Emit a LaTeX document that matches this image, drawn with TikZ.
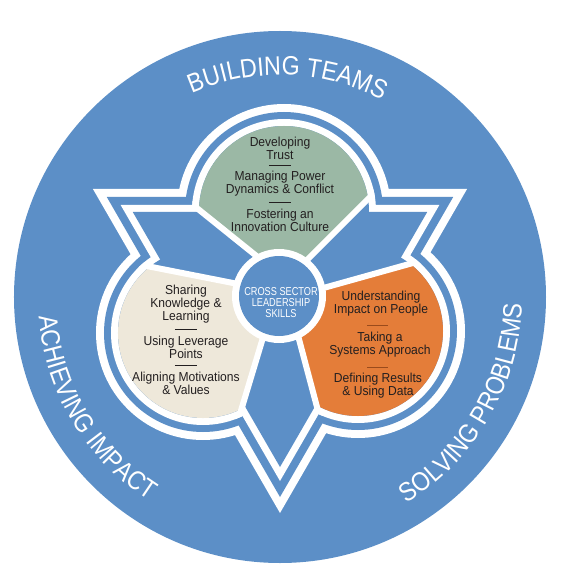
\documentclass[tikz,border=0pt]{standalone}
\usepackage{fontspec}
\setmainfont{Liberation Sans}
\newfontfamily\lobefont{Liberation Sans}[FakeStretch=0.93]
\newfontfamily\centerfont{Liberation Sans}[FakeStretch=0.8]
\newfontfamily\ringfont{Liberation Sans}[FakeStretch=0.88]
\usetikzlibrary{calc,decorations.text}
\definecolor{ringblue}{HTML}{5C8FC7}
\definecolor{sage}{HTML}{9BB8A5}
\definecolor{cream}{HTML}{EEE8DA}
\definecolor{orng}{HTML}{E47D39}
\definecolor{ink}{HTML}{231F20}
\definecolor{brownsep}{HTML}{9A4B1C}
\begin{document}
\begin{tikzpicture}[x=1pt,y=1pt,
  lobetext/.style={align=center, inner sep=0pt, text=ink, font=\lobefont\fontsize{13}{13}\selectfont},
  centertext/.style={align=center, inner sep=0pt, text=white, font=\centerfont\fontsize{11.5}{10.7}\selectfont},
  sepline/.style={line width=0.9pt, draw=ink},
  spoke/.style={draw=white, line width=6pt},
  ringtext/.style={decorate, decoration={text along path, text align=center, text color=white, text={|\ringfont\fontsize{26.5}{26.5}\selectfont|#1}}}
]
\useasboundingbox (-280,-287) rectangle (290,297);
\fill[ringblue] (0,0) circle[radius=266];

% lobe centres
\coordinate (L0) at (4,86);
\coordinate (L1) at (-77,-36);
\coordinate (L2) at (78,-34);

% nested star outline: triangle plus three lobes
\foreach \col/\t/\r in {white/108/107, ringblue/100/99, white/92/92, ringblue/85/85} {
  \fill[\col] (150:{2*\t}) -- (270:{2*\t}) -- (30:{2*\t}) -- cycle;
  \fill[\col] (L0) circle[radius=\r];
  \fill[\col] (L1) circle[radius=\r];
  \fill[\col] (L2) circle[radius=\r];
}

% wedge edge points
\coordinate (gP1) at (-26,43);  \coordinate (gP2) at (-77,84);
\coordinate (gQ1) at (33,43);   \coordinate (gQ2) at (83,93);
\coordinate (bU1) at (-47,14);  \coordinate (bU2) at (-113,27);
\coordinate (bV1) at (-15,-34); \coordinate (bV2) at (-37,-107);
\coordinate (oW1) at (47,10);   \coordinate (oW2) at (115,29);
\coordinate (oX1) at (20,-46);  \coordinate (oX2) at (37,-110);
\coordinate (gA) at (intersection of gP1--gP2 and gQ1--gQ2);
\coordinate (bA) at (intersection of bU1--bU2 and bV1--bV2);
\coordinate (oA) at (intersection of oW1--oW2 and oX1--oX2);

% coloured lobes
\begin{scope}
  \clip (gA) -- ($(gA)!6!(gP2)$) -- ($(gA)!6!(gQ2)$) -- cycle;
  \fill[sage] (L0) circle[radius=85];
\end{scope}
\begin{scope}
  \clip (bA) -- ($(bA)!6!(bU2)$) -- ($(bA)!6!(bV2)$) -- cycle;
  \fill[cream] (L1) circle[radius=85];
\end{scope}
\begin{scope}
  \clip (oA) -- ($(oA)!6!(oW2)$) -- ($(oA)!6!(oX2)$) -- cycle;
  \fill[orng] (L2) circle[radius=85];
\end{scope}

% white spokes along the straight edges
\begin{scope}
  \clip (L0) circle[radius=92];
  \draw[spoke] (gA) -- ($(gA)!2!(gP2)$);
  \draw[spoke] (gA) -- ($(gA)!2!(gQ2)$);
\end{scope}
\begin{scope}
  \clip (L1) circle[radius=92];
  \draw[spoke] (bA) -- ($(bA)!2!(bU2)$);
  \draw[spoke] (bA) -- ($(bA)!2!(bV2)$);
\end{scope}
\begin{scope}
  \clip (L2) circle[radius=92];
  \draw[spoke] (oA) -- ($(oA)!2!(oW2)$);
  \draw[spoke] (oA) -- ($(oA)!2!(oX2)$);
\end{scope}

% centre circle
\fill[white] (-1,1) circle[radius=47];
\fill[ringblue] (-1,1) circle[radius=40];
\node[centertext] (cs) at (1,-5.5) {CROSS SECTOR\\LEADERSHIP\\SKILLS};

% green lobe texts
\node[lobetext] (g1) at (0,148.4) {Developing\\Trust};
\node[lobetext] (g2) at (0,113.4) {Managing Power\\Dynamics \& Conflict};
\node[lobetext] (g3) at (0,76.9) {Fostering an\\Innovation Culture};
\draw[sepline] (-11,131.3) -- (11,131.3);
\draw[sepline] (-11,94.7) -- (11,94.7);

% cream lobe texts
\node[lobetext] (b1) at (-94,-7) {Sharing\\Knowledge \&\\Learning};
\node[lobetext] (b2) at (-94,-50.5) {Using Leverage\\Points};
\node[lobetext] (b3) at (-94,-86.5) {Aligning Motivations\\\& Values};
\draw[sepline] (-105,-32) -- (-83,-32);
\draw[sepline] (-105,-68) -- (-83,-68);

% orange lobe texts
\node[lobetext] (o1) at (101,-6.5) {Understanding\\Impact on People};
\node[lobetext] (o2) at (100,-48) {Taking a\\Systems Approach};
\node[lobetext] (o3) at (98,-89) {Defining Results\\\& Using Data};
\draw[sepline, draw=brownsep] (87,-28) -- (108,-28);
\draw[sepline, draw=brownsep] (87,-70) -- (108,-70);

% ring texts
\path[ringtext={BUILDING TEAMS}] (148:222) arc[start angle=148, end angle=28, radius=222];
\path[ringtext={ACHIEVING IMPACT}] (151:242) arc[start angle=151, end angle=271, radius=242];
\path[ringtext={SOLVING PROBLEMS}] (-90:242) arc[start angle=-90, end angle=30, radius=242];
\end{tikzpicture}
\end{document}
